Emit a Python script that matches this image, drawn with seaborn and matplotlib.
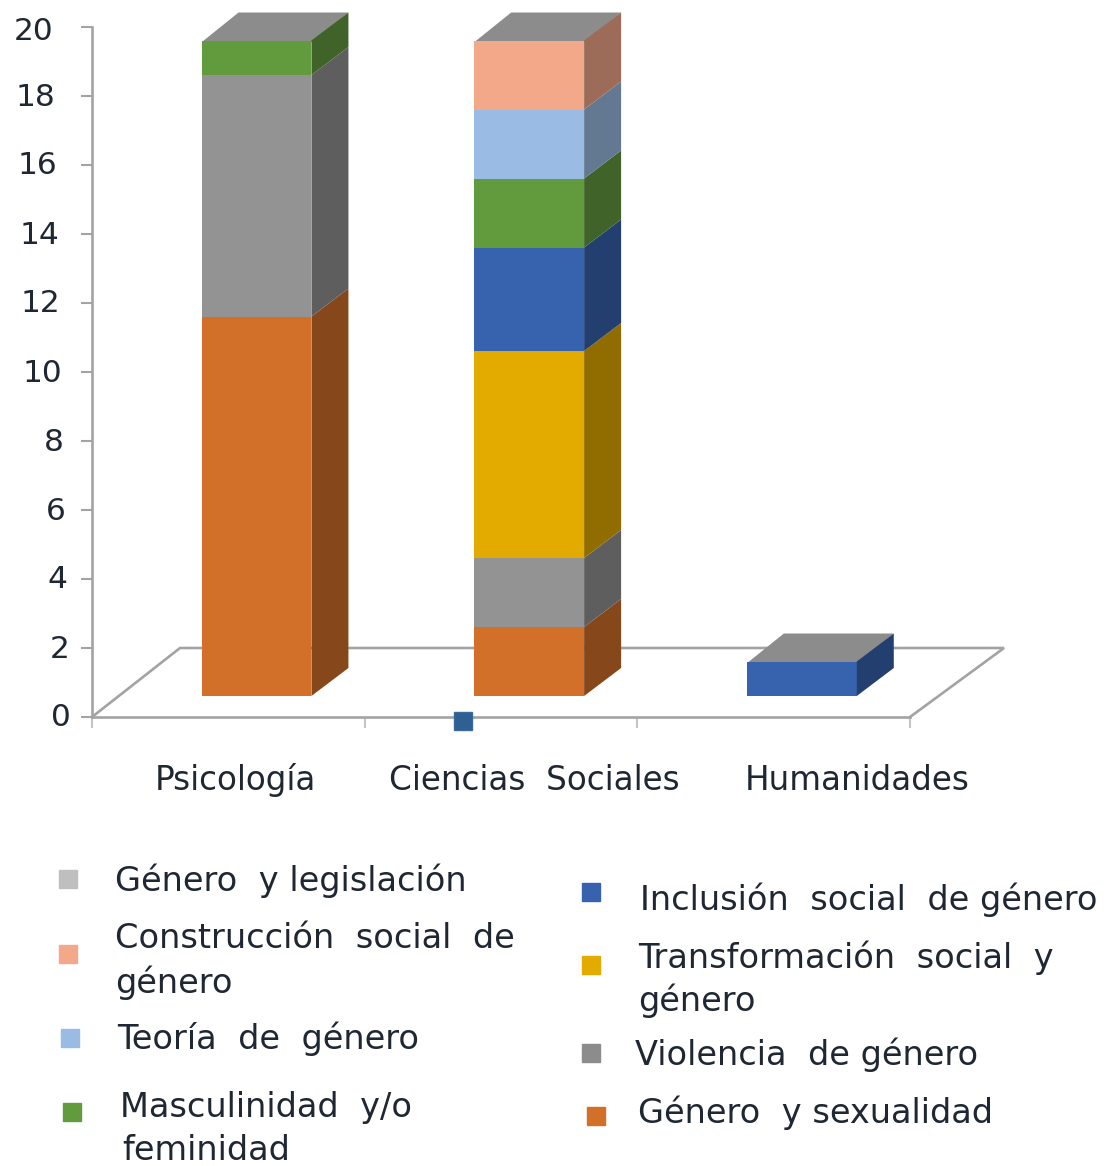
import pandas as pd
import numpy as np
import matplotlib
matplotlib.use("Agg")
import matplotlib.pyplot as plt
from matplotlib.lines import Line2D
import seaborn as sns

areas = ["Psicología", "Ciencias  Sociales", "Humanidades"]
series = ["Género y sexualidad", "Violencia de género", "Transformación social y género",
          "Inclusión social de género", "Masculinidad y/o feminidad", "Teoría de género",
          "Construcción social de género", "Género y legislación"]
sexualidad = [11, 2, 0]
violencia = [7, 2, 0]
transformacion = [0, 6, 0]
inclusion = [0, 3, 1]
masculinidad = [1, 2, 0]
teoria = [0, 2, 0]
construccion = [0, 2, 0]
legislacion = [0, 0, 0]
y_ticks = [0, 2, 4, 6, 8, 10, 12, 14, 16, 18, 20]

colores = ["#D2702A", "#939393", "#E3AB00", "#3763AE", "#629A3E", "#9ABBE3", "#F4A88A", "#BFBFBF"]
W, H = 1110, 1166
GRIS = "#A3A3A3"
TEXTO = "#1F2733"

df = pd.DataFrame({"area": areas, series[0]: sexualidad, series[1]: violencia, series[2]: transformacion,
                   series[3]: inclusion, series[4]: masculinidad, series[5]: teoria,
                   series[6]: construccion, series[7]: legislacion})
largo = df.melt(id_vars="area", var_name="tema", value_name="n")

sns.set_theme(style="white")
plt.rcParams["font.family"] = ["DejaVu Sans"]


def px(x, y):
    return x / W, 1 - y / H


fig = plt.figure(figsize=(W / 100, H / 100), dpi=100)
ax = fig.add_axes([92 / W, 1 - 717 / H, (910 - 92) / W, (717 - 27) / H])

# desplazamientos del falso 3D
paso_x = (910 - 92) / 3
paso_y = (717 - 27) / 20
dx = 37 / paso_x
dy = 28 / paso_y
base = 21 / paso_y
x_izq = -(256.5 - 92) / paso_x
x_der = x_izq + 3

apilado = np.full(len(areas), base, dtype=float)
for tema, color in zip(series, colores):
    sub = largo[largo["tema"] == tema]
    antes = len(ax.patches)
    sns.barplot(data=sub, x="area", y="n", order=areas, color=color, saturation=1, width=0.403,
                bottom=apilado, errorbar=None, linewidth=0, ax=ax, zorder=3)
    oscuro = tuple(c * 0.64 for c in matplotlib.colors.to_rgb(color))
    for p in ax.patches[antes:]:
        if p.get_height() == 0:
            continue
        x1 = p.get_x() + p.get_width()
        y0, y1 = p.get_y(), p.get_y() + p.get_height()
        ax.fill([x1, x1 + dx, x1 + dx, x1], [y0, y0 + dy, y1 + dy, y1], color=oscuro, lw=0,
                zorder=3, clip_on=False)
    apilado = apilado + np.array(sub["n"], dtype=float)

# tapas
for i, alto in enumerate(apilado):
    x0, x1 = i - 0.403 / 2, i + 0.403 / 2
    ax.fill([x0, x1, x1 + dx, x0 + dx], [alto - 0.05, alto - 0.05, alto + dy, alto + dy], color="#8C8C8C", lw=0,
            zorder=2.5, clip_on=False)

# suelo
fondo = (717 - 648) / paso_y
ax.plot([x_izq, x_izq + 88 / paso_x, x_der + 94 / paso_x, x_der], [0, fondo, fondo, 0], color=GRIS, lw=1.9,
        zorder=1, clip_on=False, solid_joinstyle="miter")

ax.set_xlim(x_izq, x_der)
ax.set_ylim(0, 20)
ax.set_xlabel("")
ax.set_ylabel("")
sns.despine(ax=ax)
for s in ["left", "bottom"]:
    ax.spines[s].set_color(GRIS)
    ax.spines[s].set_linewidth(1.9)
ax.set_xticks([x_izq + i for i in range(4)])
ax.set_yticks(y_ticks)
ax.set_xticklabels([])
ax.set_yticklabels([])
ax.tick_params(axis="x", bottom=True, length=8, width=1.5, color="#C4C4C4")
ax.tick_params(axis="y", left=True, length=8, width=1.5, color=GRIS)

for v in y_ticks:
    y = 717 - v * paso_y + (1 if v < 20 else 4)
    fig.text(*px(54 + (20 - v) * 0.85, y), str(v), ha="right", va="center", fontsize=22.5, color=TEXTO)

for nombre, x in zip(areas, [235, 534, 857]):
    fig.text(*px(x, 780), nombre, ha="center", va="center", fontsize=23.5, color=TEXTO)

# punto suelto del original
fig.add_artist(Line2D(*[[c] for c in px(463, 721)], marker="s", ms=13, mfc="#2F5F93", mec="#3A6A9C", lw=0))

leyenda = [(115, 881, "Género  y legislación"), (115, 939, "Construcción  social  de"), (115, 983, "género"),
           (117, 1039, "Teoría  de  género"), (120, 1108, "Masculinidad  y/o"), (122, 1151, "feminidad"),
           (640, 900, "Inclusión  social  de género"), (638, 958, "Transformación  social  y"), (638, 1001, "género"),
           (635, 1055, "Violencia  de género"), (638, 1113, "Género  y sexualidad")]
for x, y, t in leyenda:
    fig.text(*px(x, y), t, ha="left", va="center", fontsize=24.2, color=TEXTO)

marcas = [(68, 879, 7), (68, 954, 6), (70, 1038, 5), (72, 1112, 4), (591, 892, 3), (591, 965, 2), (591, 1053, 1),
          (596, 1116, 0)]
for x, y, k in marcas:
    color = colores[k] if k != 1 else "#8C8C8C"
    fig.add_artist(Line2D(*[[c] for c in px(x, y)], marker="s", ms=13, mfc=color, mec=color, lw=0))

plt.savefig("out.png", dpi=100)
